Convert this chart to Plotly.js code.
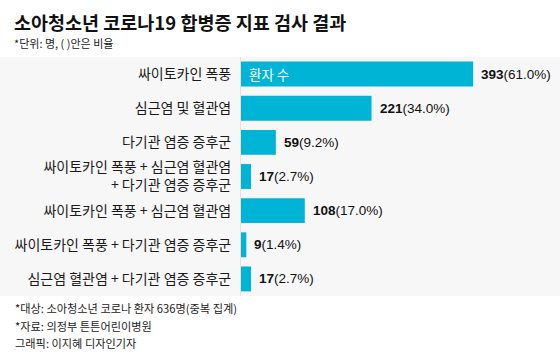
<!DOCTYPE html>
<html>
<head>
<meta charset="utf-8">
<script src="https://cdn.plot.ly/plotly-3.0.1.min.js"></script>
<style>html,body{margin:0;padding:0;background:#fff;}#chart{width:560px;height:356px;}</style>
</head>
<body>
<div id="chart"></div>
<script>
const categories = [
  "싸이토카인 폭풍",
  "심근염 및 혈관염",
  "다기관 염증 증후군",
  "싸이토카인 폭풍 + 심근염 혈관염<br>+ 다기관 염증 증후군",
  "싸이토카인 폭풍 + 심근염 혈관염",
  "싸이토카인 폭풍 + 다기관 염증 증후군",
  "심근염 혈관염 + 다기관 염증 증후군"
];
const counts = [393, 221, 59, 17, 108, 9, 17];
const shares = ["61.0%", "34.0%", "9.2%", "2.7%", "17.0%", "1.4%", "2.7%"];
const titleText = "소아청소년 코로나19 합병증 지표 검사 결과";
const subtitleText = "*단위: 명, ( )안은 비율";
const seriesName = "환자 수";
const footnotes = [
  "*대상: 소아청소년 코로나 환자 636명(중복 집계)",
  "*자료: 의정부 튼튼어린이병원",
  "그래픽: 이지혜 디자인기자"
];

const FONT = "Liberation Sans, Noto Sans CJK KR, sans-serif";
const KFONT = "Noto Sans CJK KR, Liberation Sans, sans-serif";
const W = 560, H = 356;
const L = 241, R = 0, T = 57, B = 60;
const PW = W - L - R, PH = H - T - B;
const px = x => (x - L) / PW;
const py = y => (H - B - y) / PH;

const annotations = [];
annotations.push({xref:'paper', yref:'paper', x:px(12), y:py(22), xanchor:'left', yanchor:'middle',
  text:'<b>' + titleText + '</b>', showarrow:false, font:{family:KFONT, size:18.5, color:'#111'}});
annotations.push({xref:'paper', yref:'paper', x:px(12), y:py(43), xanchor:'left', yanchor:'middle',
  text:subtitleText, showarrow:false, font:{family:KFONT, size:11, color:'#222'}});
const fy = [308, 326, 343];
footnotes.forEach((t, i) => annotations.push({xref:'paper', yref:'paper', x:px(13), y:py(fy[i]),
  xanchor:'left', yanchor:'middle', text:t, showarrow:false, font:{family:KFONT, size:11.2, color:'#222'}}));
counts.forEach((v, i) => annotations.push({xref:'x', yref:'y', x:v, y:categories[i], xanchor:'left',
  yanchor:'middle', xshift:6, text:'<b>' + v + '</b>(' + shares[i] + ')', showarrow:false,
  font:{family:FONT, size:13.5, color:'#111'}}));
annotations.push({xref:'x', yref:'y', x:0, y:categories[0], xanchor:'left', yanchor:'middle', xshift:6,
  text:seriesName, showarrow:false, font:{family:KFONT, size:13.5, color:'#ffffff'}});

const trace = {
  type:'bar', orientation:'h', x:counts, y:categories, name:seriesName,
  marker:{color:'#00b4d6', line:{width:0}}, hoverinfo:'none'
};

const layout = {
  width:W, height:H, margin:{l:L, r:R, t:T, b:B, pad:0},
  paper_bgcolor:'#ffffff', plot_bgcolor:'#f7f7f7',
  showlegend:false, bargap:0.27,
  font:{family:FONT, size:13, color:'#111'},
  xaxis:{range:[0, 540], showgrid:false, zeroline:false, showticklabels:false, showline:false, fixedrange:true},
  yaxis:{autorange:'reversed', showgrid:false, zeroline:false, showline:true, linecolor:'#e2e2e2', linewidth:1,
    ticks:'', ticklabelstandoff:6, tickfont:{family:KFONT, size:14, color:'#1a1a1a'}, fixedrange:true},
  shapes:[{type:'rect', xref:'paper', yref:'paper', x0:-L/PW, x1:1, y0:0, y1:1,
    fillcolor:'#f7f7f7', line:{width:0}, layer:'below'}],
  annotations:annotations
};

Plotly.newPlot('chart', [trace], layout, {staticPlot:true, displayModeBar:false});
</script>
</body>
</html>
